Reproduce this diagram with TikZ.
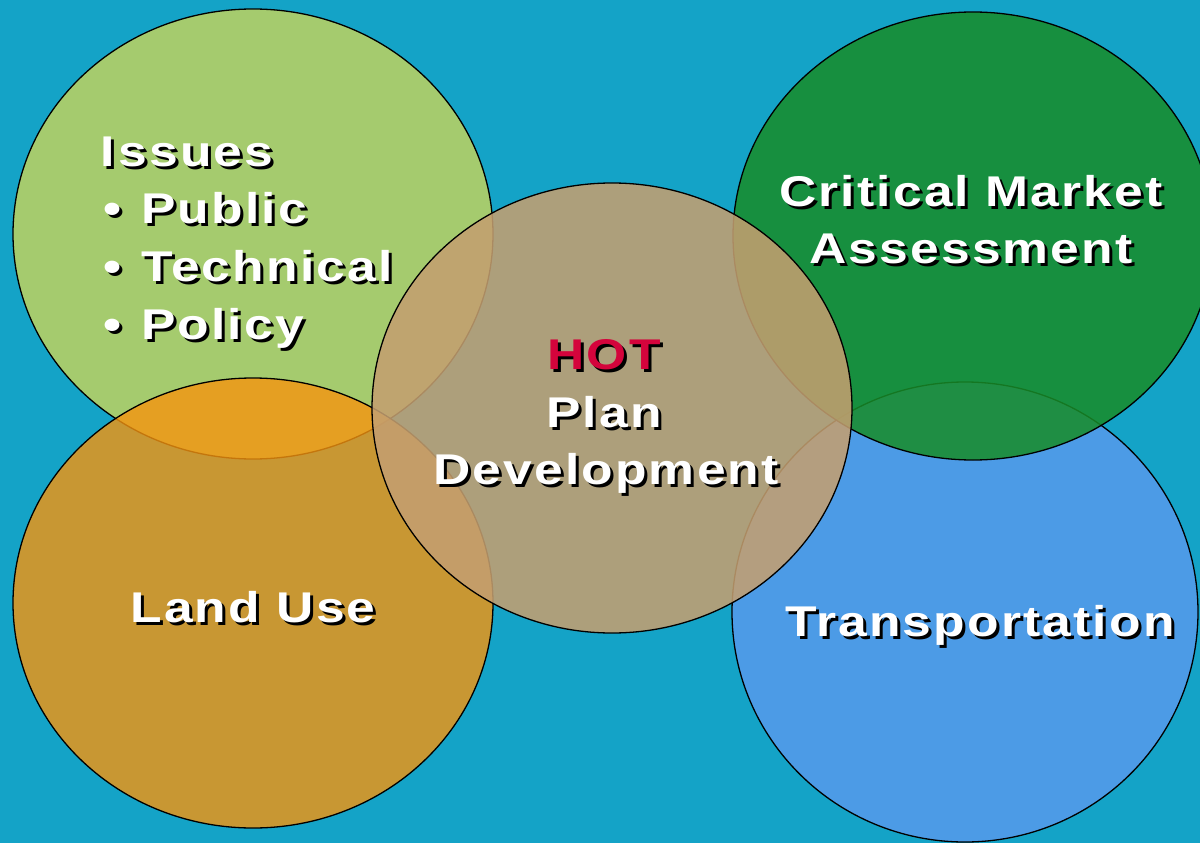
\documentclass[tikz,border=0pt]{standalone}
\usepackage{fontspec}
\newfontfamily\lblfont[FakeStretch=1.2,LetterSpace=5]{Liberation Sans Bold}
\definecolor{bgteal}{RGB}{20,163,199}
\definecolor{issuesfill}{RGB}{165,203,110}
\definecolor{landfill}{RGB}{245,148,15}
\definecolor{centerfill}{RGB}{196,159,112}
\definecolor{greenfill}{RGB}{24,140,40}
\definecolor{bluefill}{RGB}{76,155,230}
\definecolor{hotred}{RGB}{212,4,60}
\newcommand{\shtext}[1]{\makebox[0pt][l]{\kern3pt\raisebox{-3pt}[0pt][0pt]{\textcolor{black}{#1}}}#1}
\tikzset{
  blob/.style={draw=black, line width=1.3pt},
  lbl/.style={inner sep=0pt, anchor=base, text=white, font=\lblfont\fontsize{43}{57}\selectfont},
  lblw/.style={lbl, anchor=base west}
}
\begin{document}
\begin{tikzpicture}[x=1pt,y=-1pt]
\useasboundingbox (0,0) rectangle (1200,843);
\fill[bgteal] (0,0) rectangle (1200,843);
% circles
\draw[blob, fill=issuesfill] (253,234) ellipse [x radius=240, y radius=225];
\draw[blob, fill=landfill, fill opacity=0.8] (253,603) ellipse [x radius=240, y radius=225];
\draw[blob, fill=bluefill] (965,612) ellipse [x radius=233, y radius=230];
\draw[blob, fill=greenfill, fill opacity=0.85] (973,236) ellipse [x radius=240, y radius=224];
\draw[blob, fill=centerfill, fill opacity=0.87] (612,408) ellipse [x radius=240, y radius=225];
% Issues text
\node[lblw] (issues) at (100,166) {\shtext{I\kern4pt ssues}};
\node[lblw] (b1) at (103,223) {\shtext{•}};
\node[lblw] (public) at (141,223) {\shtext{Public}};
\node[lblw] (b2) at (103,281) {\shtext{•}};
\node[lblw] (technical) at (141,281) {\shtext{Technical}};
\node[lblw] (b3) at (103,339) {\shtext{•}};
\node[lblw] (policy) at (141,339) {\shtext{Policy}};
% Critical market
\node[lbl] (crit) at (971,206) {\shtext{Critical Market}};
\node[lbl] (assess) at (971,263) {\shtext{Assessment}};
% HOT
\node[lbl, text=hotred] (hot) at (604,369) {\shtext{HOT}};
\node[lbl] (plan) at (604,427) {\shtext{Plan}};
\node[lbl] (dev) at (606,484) {\shtext{Development}};
% Land use
\node[lbl] (land) at (253,622) {\shtext{Land Use}};
% Transportation
\node[lbl] (trans) at (980,636) {\shtext{Transportation}};
\end{tikzpicture}
\end{document}
